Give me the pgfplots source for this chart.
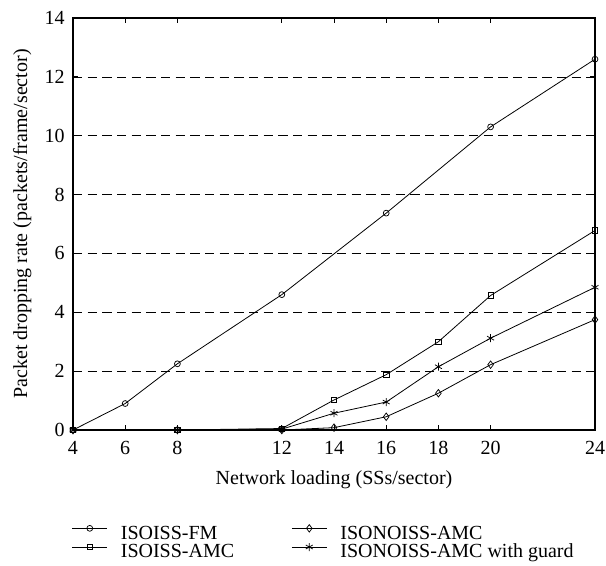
\documentclass[border=0pt]{standalone}
\usepackage{pgfplots}
\pgfplotsset{compat=1.18}
\usepackage{fontspec}
\setmainfont{Liberation Serif}
\begin{document}
\fontsize{15}{17}\selectfont
\begin{tikzpicture}
\useasboundingbox (-54.75pt,-101.25pt) rectangle (399.75pt,322.5pt);
\begin{axis}[
  at={(0,0)}, anchor=south west,
  scale only axis,
  width=391.5pt, height=309pt,
  xmin=4, xmax=24, ymin=0, ymax=14,
  xtick={4,6,8,12,14,16,18,20,24},
  ytick={0,2,4,6,8,10,12,14},
  tick align=inside,
  major tick length=4pt,
  tick style={line width=0.6pt, black},
  ymajorgrids,
  major grid style={black, line width=0.5pt, dash pattern=on 7pt off 4pt},
  axis line style={line width=1pt},
  /pgf/number format/assume math mode=true,
  tick label style={font=\fontsize{15}{17}\selectfont},
  label style={font=\fontsize{15}{17}\selectfont},
  xticklabel style={yshift=-3pt},
  yticklabel style={xshift=-1pt},
  xlabel={Network loading (SSs/sector)},
  ylabel={Packet dropping rate (packets/frame/sector)},
  every axis x label/.style={at={(axis description cs:0.5,-0.121)}, anchor=center},
  every axis y label/.style={at={(axis description cs:-0.097,0.5)}, rotate=90, anchor=center},
  legend columns=2,
  legend style={draw=none, fill=none, at={(-0.01,-0.2225)}, anchor=north west,
    font=\fontsize{15}{17}\selectfont,
    nodes={inner xsep=0pt, inner ysep=0pt, text height=10pt, text depth=3pt},
    /tikz/every odd column/.append style={column sep=10pt},
    /tikz/every even column/.append style={column sep=43pt},
    row sep=0pt},
  legend cell align=left,
  legend image code/.code={
    \draw[mark repeat=2,mark phase=2,#1] plot coordinates {(0pt,4.5pt) (13pt,4.5pt) (26pt,4.5pt)};
  },
  every axis plot/.append style={black, line width=0.6pt, mark options={solid, line width=0.55pt}, mark size=2.2pt},
]
\addplot[mark=o] coordinates {(4,0) (6,0.9) (8,2.25) (12,4.6) (16,7.37) (20,10.3) (24,12.6)};
\addlegendentry{ISOISS-FM}
\addplot[mark=diamond, mark size=2.8pt] coordinates {(4,0) (8,0) (12,0) (14,0.08) (16,0.45) (18,1.25) (20,2.22) (24,3.75)};
\addlegendentry{ISONOISS-AMC}
\addplot[mark=square, mark size=2pt] coordinates {(4,0) (8,0) (12,0.05) (14,1.02) (16,1.88) (18,3.0) (20,4.57) (24,6.78)};
\addlegendentry{ISOISS-AMC}
\addplot[mark=asterisk, mark size=3pt] coordinates {(4,0) (8,0) (12,0.03) (14,0.57) (16,0.95) (18,2.15) (20,3.12) (24,4.85)};
\addlegendentry{ISONOISS-AMC with guard}
\end{axis}
\end{tikzpicture}
\end{document}
